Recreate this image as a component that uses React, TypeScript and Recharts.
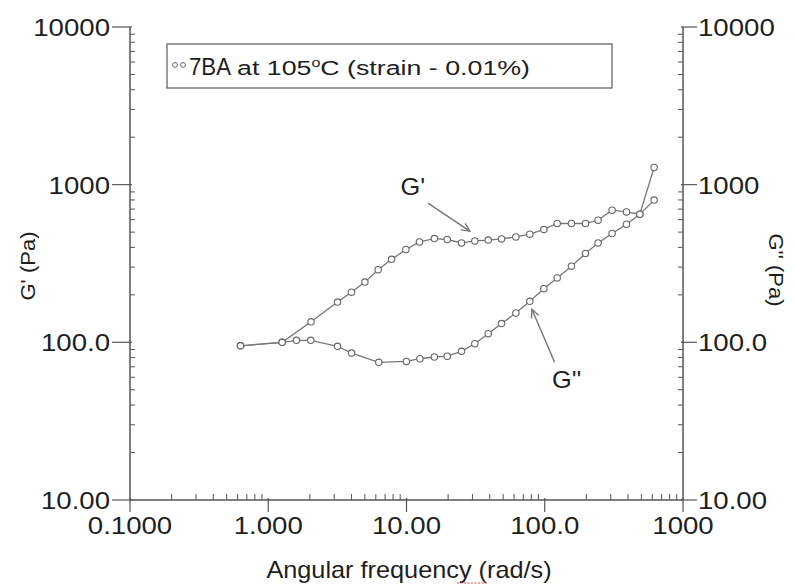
import React from 'react';
import {
  ScatterChart,
  Scatter,
  XAxis,
  YAxis,
  ReferenceLine,
  ReferenceDot,
  Customized,
} from 'recharts';

// G' (storage modulus) vs angular frequency
const FREQ_G1 = [0.63, 1.26, 2.04, 3.17, 4.0, 5.0, 6.24, 7.8, 9.9, 12.4, 15.9, 19.7, 25.0, 31.2, 39, 48.7, 61.8, 78, 98.5, 123, 156, 197, 243, 307, 390, 487, 618];
const G1 = [95, 100, 135, 180, 208, 241, 289, 336, 388, 433, 455, 449, 427, 440, 445, 453, 466, 485, 520, 567, 567, 567, 595, 689, 672, 650, 1285];

// G'' (loss modulus) vs angular frequency
const FREQ_G2 = [0.63, 1.26, 1.6, 2.03, 3.17, 4.01, 6.3, 9.98, 12.5, 15.9, 19.7, 25, 31.2, 39, 48.7, 61.8, 78, 98.5, 123, 156, 197, 243, 307, 390, 487, 618];
const G2 = [95, 100, 103, 103, 94.4, 85.5, 74.7, 75.7, 78.7, 80.7, 81.7, 87.7, 98, 113.5, 131.5, 153.5, 182, 219, 256, 304, 366, 427, 490, 561, 650, 798];

const X_MAJOR = [0.1, 1, 10, 100, 1000];
const X_LABELS = ['0.1000', '1.000', '10.00', '100.0', '1000'];
const Y_MAJOR = [10, 100, 1000, 10000];
const Y_LABELS = ['10.00', '100.0', '1000', '10000'];

const withMinors = (majors: number[]) => {
  const out: number[] = [];
  majors.forEach((m, i) => {
    out.push(m);
    if (i < majors.length - 1) for (let k = 2; k <= 9; k++) out.push(m * k);
  });
  return out;
};

const g1Data = FREQ_G1.map((x, i) => ({ x, y: G1[i] }));
const g2Data = FREQ_G2.map((x, i) => ({ x, y: G2[i] }));

const INK = '#1e1e1e';
const AXIS = '#555';
const LINE = '#777';
const FONT = '"Liberation Sans", Arial, sans-serif';

const Txt = ({ x, y, size, anchor = 'start', rotate = 0, sx = 1.1, children }: any) => (
  <text
    transform={`translate(${x},${y}) rotate(${rotate}) scale(${sx},1)`}
    fontFamily={FONT}
    fontSize={size}
    fill={INK}
    textAnchor={anchor}
  >
    {children}
  </text>
);

const XTick = (props: any) => {
  const { x, y, payload } = props;
  const i = X_MAJOR.indexOf(payload.value);
  if (i < 0) return <line x1={x} x2={x} y1={y} y2={y - 6} stroke={AXIS} />;
  return (
    <g>
      <line x1={x} x2={x} y1={y - 2} y2={y + 12} stroke={AXIS} strokeWidth={1.2} />
      <Txt x={x} y={y + 34} size={24} sx={1.15} anchor="middle">{X_LABELS[i]}</Txt>
    </g>
  );
};

const YTickLeft = (props: any) => {
  const { x, y, payload } = props;
  const i = Y_MAJOR.indexOf(payload.value);
  if (i < 0) return <line x1={x} x2={x + 5} y1={y} y2={y} stroke={AXIS} />;
  return (
    <g>
      <line x1={x - 18} x2={x + 2} y1={y} y2={y} stroke={AXIS} strokeWidth={1.2} />
      <Txt x={x - 20} y={y + 9} size={24} sx={1.15} anchor="end">{Y_LABELS[i]}</Txt>
    </g>
  );
};

const YTickRight = (props: any) => {
  const { x, y, payload } = props;
  const i = Y_MAJOR.indexOf(payload.value);
  if (i < 0) return <line x1={x} x2={x - 5} y1={y} y2={y} stroke={AXIS} />;
  return (
    <g>
      <line x1={x - 2} x2={x + 14} y1={y} y2={y} stroke={AXIS} strokeWidth={1.2} />
      <Txt x={x + 15} y={y + 9} size={24} sx={1.15}>{Y_LABELS[i]}</Txt>
    </g>
  );
};

const Marker = (props: any) => (
  <circle cx={props.cx} cy={props.cy} r={3.2} fill="#fff" stroke="#666" strokeWidth={1.1} />
);

const Arrow = (props: any) => {
  const { x1, y1, x2, y2 } = props;
  const a = Math.atan2(y2 - y1, x2 - x1);
  const h = 9;
  const w = 0.45;
  return (
    <g stroke="#777" strokeWidth={1.4} fill="none">
      <line x1={x1} y1={y1} x2={x2} y2={y2} />
      <polyline
        points={`${x2 - h * Math.cos(a - w)},${y2 - h * Math.sin(a - w)} ${x2},${y2} ${x2 - h * Math.cos(a + w)},${y2 - h * Math.sin(a + w)}`}
      />
    </g>
  );
};

const Decor = () => (
  <g>
    {/* legend box */}
    <rect x={167} y={44} width={445} height={44} fill="#fff" stroke="#666" strokeWidth={1.3} />
    <circle cx={175} cy={65} r={2.4} fill="#fff" stroke="#666" />
    <circle cx={183} cy={65} r={2.4} fill="#fff" stroke="#666" />
    <text x={189} y={75} fontFamily={FONT} fill={INK} fontSize={24} textLength={42} lengthAdjust="spacingAndGlyphs">
      7BA
    </text>
    <text x={237} y={75} fontFamily={FONT} fill={INK} fontSize={20} textLength={293} lengthAdjust="spacingAndGlyphs">
      at 105
      <tspan fontSize={12} dy={-8}>o</tspan>
      <tspan dy={8}>C (strain - 0.01%)</tspan>
    </text>
    {/* axis titles */}
    <Txt x={35} y={266} size={20} anchor="middle" rotate={-90}>G' (Pa)</Txt>
    <Txt x={769} y={270} size={20} anchor="middle" rotate={90}>G'' (Pa)</Txt>
    <Txt x={409} y={578} size={23} anchor="middle">Angular frequency (rad/s)</Txt>
    <line x1={457} x2={488} y1={583} y2={583} stroke="#e05050" strokeWidth={1.2} strokeDasharray="2 1.5" />
  </g>
);

export default function App() {
  return (
    <div style={{ width: 796, height: 588, background: '#fff' }}>
      <style>{`body { margin: 0; }`}</style>
      <ScatterChart width={796} height={588} margin={{ top: 27, right: 0, bottom: 0, left: 0 }}>
        <XAxis
          type="number"
          dataKey="x"
          scale="log"
          domain={[0.1, 1000]}
          ticks={withMinors(X_MAJOR)}
          interval={0}
          allowDataOverflow
          height={88}
          tickSize={0}
          tickMargin={0}
          tickLine={false}
          tick={<XTick />}
          axisLine={{ stroke: AXIS, strokeWidth: 1.5 }}
        />
        <YAxis
          yAxisId="left"
          type="number"
          dataKey="y"
          scale="log"
          domain={[10, 10000]}
          ticks={withMinors(Y_MAJOR)}
          interval={0}
          allowDataOverflow
          width={130}
          tickSize={0}
          tickMargin={0}
          tickLine={false}
          tick={<YTickLeft />}
          axisLine={{ stroke: AXIS, strokeWidth: 1.5 }}
        />
        <YAxis
          yAxisId="right"
          orientation="right"
          type="number"
          dataKey="y"
          scale="log"
          domain={[10, 10000]}
          ticks={withMinors(Y_MAJOR)}
          interval={0}
          allowDataOverflow
          width={113}
          tickSize={0}
          tickMargin={0}
          tickLine={false}
          tick={<YTickRight />}
          axisLine={{ stroke: AXIS, strokeWidth: 1.5 }}
        />
        <Scatter
          name="G'"
          data={g1Data}
          yAxisId="left"
          line={{ stroke: LINE, strokeWidth: 1.3 }}
          shape={<Marker />}
          isAnimationActive={false}
        />
        <Scatter
          name="G''"
          data={g2Data}
          yAxisId="right"
          line={{ stroke: LINE, strokeWidth: 1.3 }}
          shape={<Marker />}
          isAnimationActive={false}
        />
        <ReferenceLine
          yAxisId="left"
          segment={[{ x: 14.3, y: 763 }, { x: 28.7, y: 507 }]}
          shape={<Arrow />}
        />
        <ReferenceLine
          yAxisId="left"
          segment={[{ x: 118, y: 74.6 }, { x: 80.7, y: 162 }]}
          shape={<Arrow />}
        />
        <ReferenceDot
          yAxisId="left"
          x={11.1}
          y={964}
          r={0}
          shape={(p: any) => <Txt x={p.cx} y={p.cy + 8} size={23} anchor="middle">G'</Txt>}
        />
        <ReferenceDot
          yAxisId="left"
          x={144}
          y={57.4}
          r={0}
          shape={(p: any) => <Txt x={p.cx} y={p.cy + 8} size={23} anchor="middle">G''</Txt>}
        />
        <Customized component={Decor} />
      </ScatterChart>
    </div>
  );
}
